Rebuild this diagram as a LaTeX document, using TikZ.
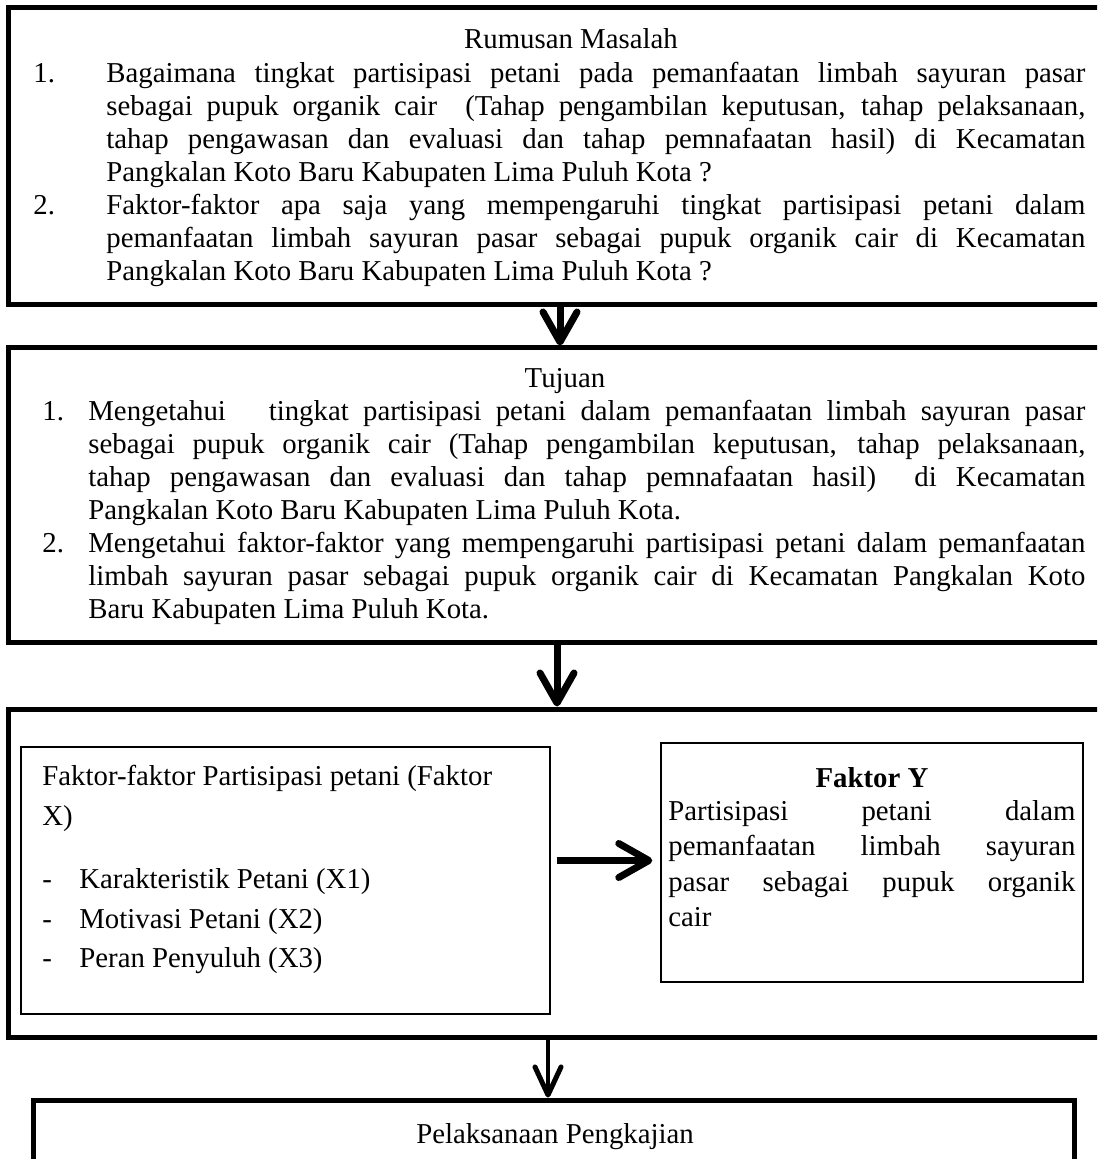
\documentclass[tikz,border=0pt]{standalone}
\usepackage{fontspec}
\setmainfont{Liberation Serif}
\usetikzlibrary{arrows.meta,fit}
\tikzset{
  bigbox/.style={draw, line width=2.5pt, inner sep=0pt},
  thinbox/.style={draw, line width=0.7pt, inner sep=0pt},
  txt/.style={inner sep=0pt, font=\fontsize{14.4}{16.55}\selectfont},
  flowarrow/.style={line width=3.5pt, -{Straight Barb[length=15pt,width=17pt,line width=3.5pt,round]}},
  slimarrow/.style={line width=2.2pt, -{Straight Barb[length=14pt,width=13pt,line width=2.5pt,round]}},
}
\begin{document}
\begin{tikzpicture}[x=0.5pt,y=-0.5pt]
\useasboundingbox (0,0) rectangle (1097,1159);
\clip (0,0) rectangle (1097,1159);
% frames
\coordinate (c1a) at (8,8);    \coordinate (c1b) at (1112,305);
\coordinate (c2a) at (8,348);  \coordinate (c2b) at (1112,642);
\coordinate (c3a) at (8,709);  \coordinate (c3b) at (1112,1037);
\coordinate (c4a) at (33,1100); \coordinate (c4b) at (1074,1200);
\coordinate (cxa) at (21,747); \coordinate (cxb) at (550,1014);
\coordinate (cya) at (661,743); \coordinate (cyb) at (1083,982);
\node[bigbox, fit=(c1a)(c1b)] (b1) {};
\node[bigbox, fit=(c2a)(c2b)] (b2) {};
\node[bigbox, fit=(c3a)(c3b)] (b3) {};
\node[bigbox, fit=(c4a)(c4b)] (b4) {};
\node[thinbox, fit=(cxa)(cxb)] (bx) {};
\node[thinbox, fit=(cya)(cyb)] (by) {};

% box 1 text
\node[txt, anchor=base] (h1) at (571,49) {Rumusan Masalah};
\node[txt, anchor=north west, text width=526pt, align=justify] (t1) at (33,58.8) {%
\noindent\hangindent=36.5pt\hangafter=1\strut\makebox[36.5pt][l]{1.}Bagaimana tingkat partisipasi petani pada pemanfaatan limbah sayuran pasar\linebreak
sebagai pupuk organik cair \ (Tahap pengambilan keputusan, tahap pelaksanaan,\linebreak
tahap pengawasan dan evaluasi dan tahap pemnafaatan hasil) di Kecamatan\linebreak
Pangkalan Koto Baru Kabupaten Lima Puluh Kota ?\par
\noindent\hangindent=36.5pt\hangafter=1\makebox[36.5pt][l]{2.}Faktor-faktor apa saja yang mempengaruhi tingkat partisipasi petani dalam\linebreak
pemanfaatan limbah sayuran pasar sebagai pupuk organik cair di Kecamatan\linebreak
Pangkalan Koto Baru Kabupaten Lima Puluh Kota ?\par};

% box 2 text
\node[txt, anchor=base] (h2) at (565,388) {Tujuan};
\node[txt, anchor=north west, text width=521.5pt, align=justify] (t2) at (42,396.8) {%
\noindent\hangindent=23pt\hangafter=1\strut\makebox[23pt][l]{1.}Mengetahui \ \ tingkat partisipasi petani dalam pemanfaatan limbah sayuran pasar\linebreak
sebagai pupuk organik cair (Tahap pengambilan keputusan, tahap pelaksanaan,\linebreak
tahap pengawasan dan evaluasi dan tahap pemnafaatan hasil) \ di Kecamatan\linebreak
Pangkalan Koto Baru Kabupaten Lima Puluh Kota.\par
\noindent\hangindent=23pt\hangafter=1\makebox[23pt][l]{2.}Mengetahui faktor-faktor yang mempengaruhi partisipasi petani dalam pemanfaatan\linebreak
limbah sayuran pasar sebagai pupuk organik cair di Kecamatan Pangkalan Koto\linebreak
Baru Kabupaten Lima Puluh Kota.\par};

% box X text
\node[txt, anchor=base west] (x0) at (42,785) {Faktor-faktor Partisipasi petani (Faktor};
\node[txt, anchor=base west] (x1) at (42,825) {X)};
\node[txt, anchor=base west] (x2) at (42,888) {\makebox[18.5pt][l]{-}Karakteristik Petani (X1)};
\node[txt, anchor=base west] (x3) at (42,928) {\makebox[18.5pt][l]{-}Motivasi Petani (X2)};
\node[txt, anchor=base west] (x4) at (42,967) {\makebox[18.5pt][l]{-}Peran Penyuluh (X3)};

% box Y text
\node[txt, anchor=base, font=\fontsize{14.4}{16.55}\selectfont\bfseries] (y0) at (872,787) {Faktor Y};
\node[txt, anchor=north west, text width=203.5pt, align=justify] (y1) at (668,796.8) {%
\noindent\baselineskip=17.75pt\strut Partisipasi petani dalam\linebreak
pemanfaatan limbah sayuran\linebreak
pasar sebagai pupuk organik\linebreak
cair\par};

% box 4 text
\node[txt, anchor=base] (h4) at (555,1143) {Pelaksanaan Pengkajian};

% connectors
\draw[flowarrow] (b1.south) -- (b2.north);
\draw[flowarrow] ([xshift=-1.5pt]b2.south) -- ([xshift=-1.5pt]b3.north);
\draw[slimarrow] ([xshift=-6pt]b3.south) -- ([xshift=-6pt]b3.south |- b4.north);
\draw[flowarrow, shorten <=3pt, shorten >=4pt] ([yshift=10pt]bx.east) -- ([yshift=10pt]bx.east -| by.west);
\end{tikzpicture}
\end{document}
